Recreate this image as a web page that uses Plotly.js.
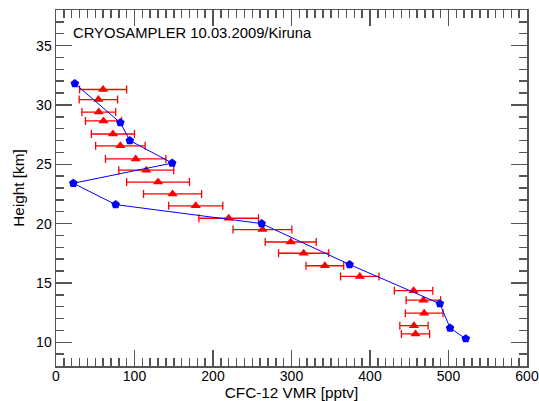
<!DOCTYPE html>
<html>
<head>
<meta charset="utf-8">
<script src="https://cdn.plot.ly/plotly-3.0.1.min.js"></script>
<style>html,body{margin:0;padding:0;background:#fff;}#chart{width:539px;height:401px;}</style>
</head>
<body>
<div id="chart"></div>
<script>
// Blue profile (pentagons with line)
var blueX = [24, 82, 94, 148, 22, 76, 262, 374, 489, 502, 522];
var blueY = [31.8, 28.5, 27.0, 25.1, 23.4, 21.6, 20.0, 16.55, 13.25, 11.2, 10.3];

// Red measurements (triangles with horizontal error bars)
var redX = [60, 54, 54.5, 60.5, 72.5, 82, 101.5, 115, 130, 148.5, 178, 220, 263, 299, 315.5, 342.5, 387, 455.5, 468, 469, 456, 458];
var redY = [31.3, 30.45, 29.4, 28.65, 27.55, 26.55, 25.45, 24.5, 23.5, 22.5, 21.5, 20.45, 19.5, 18.45, 17.5, 16.45, 15.55, 14.35, 13.55, 12.45, 11.4, 10.7];
var redErr = [30, 24.5, 21.5, 23, 27.5, 31.5, 38.5, 35, 40, 37, 34.5, 38, 37.5, 32.5, 32, 24, 24.5, 24.5, 22, 24, 18, 18];

var titleText = "CRYOSAMPLER 10.03.2009/Kiruna";
var xTitle = "CFC-12 VMR [pptv]";
var yTitle = "Height [km]";

var font = "Liberation Sans, Arial, Helvetica, sans-serif";

var traces = [
  {
    x: redX, y: redY, type: "scatter", mode: "markers",
    marker: {symbol: "triangle-up", size: 9, color: "#ff0000"},
    error_x: {type: "data", array: redErr, visible: true, color: "#ff0000", thickness: 1.3, width: 4},
    showlegend: false, hoverinfo: "none"
  },
  {
    x: blueX, y: blueY, type: "scatter", mode: "lines+markers",
    line: {color: "#0000ff", width: 1},
    marker: {symbol: "pentagon", size: 9, color: "#0000ff"},
    showlegend: false, hoverinfo: "none"
  }
];

var axisCommon = {
  showgrid: false, zeroline: false, showline: true, linecolor: "#555", linewidth: 1.5,
  ticks: "inside", ticklen: 16, tickwidth: 1.5, tickcolor: "#555", mirror: "allticks",
  tickfont: {family: font, size: 14, color: "#000"}
};

var layout = {
  width: 539, height: 401,
  margin: {l: 56, r: 12, t: 10, b: 35},
  paper_bgcolor: "#fff", plot_bgcolor: "#fff",
  xaxis: Object.assign({}, axisCommon, {
    range: [0, 600], tickmode: "linear", tick0: 0, dtick: 100,
    ticklabelstandoff: -3,
    minor: {dtick: 10, ticks: "inside", ticklen: 8, tickwidth: 1.5, tickcolor: "#555", showgrid: false},
    title: {text: xTitle, font: {family: font, size: 15.3, color: "#000"}, standoff: 0}
  }),
  yaxis: Object.assign({}, axisCommon, {
    range: [8, 38], tickmode: "linear", tick0: 0, dtick: 5,
    minor: {dtick: 1, ticks: "inside", ticklen: 8, tickwidth: 1.5, tickcolor: "#555", showgrid: false},
    title: {text: yTitle, font: {family: font, size: 15.3, color: "#000"}, standoff: 8}
  }),
  annotations: [{
    text: titleText, xref: "paper", yref: "paper", x: 0.031, y: 0.935,
    xanchor: "left", yanchor: "middle", showarrow: false,
    font: {family: font, size: 14.8, color: "#000"}
  }]
};

Plotly.newPlot("chart", traces, layout, {staticPlot: true});
</script>
</body>
</html>
